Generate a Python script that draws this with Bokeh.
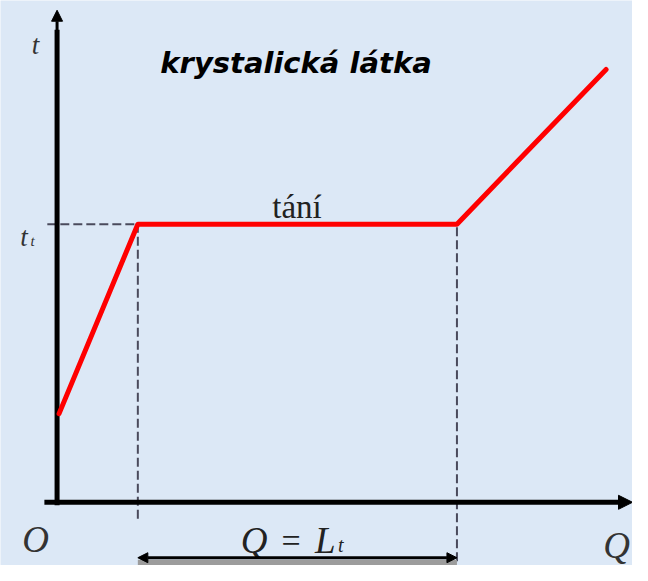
from bokeh.plotting import figure
from bokeh.models import Range1d, Arrow, NormalHead
from bokeh.core.properties import value
from bokeh.embed import file_html
from bokeh.resources import INLINE

# ---- data (heat Q supplied vs. temperature t, arbitrary units) ----
heat_q = [0.05, 2.02, 10.0, 13.73]
temp_t = [25.5, 80.0, 80.0, 124.5]
melt_temp = 80.0          # t_t
melt_start_q = 2.02       # start of melting
melt_end_q = 10.0         # end of melting
title_text = "krystalická látka"
phase_label = "tání"
axis_label_t = "t"
axis_label_q = "Q"
origin_label = "O"
eq_q, eq_sign, eq_l = "Q", "=", "L"
sub_t = "t"

# ---- layout helpers (reference pixel -> data units) ----
OX, OY = 58.0, 516.0      # pixel position of origin in the reference
KX, KY = 41.0, 3.575      # pixels per unit

def qx(px):
    return (px - OX) / KX

def ty(py):
    return (OY - py) / KY

W, H = 632, 565
BG = "#dce8f6"
p = figure(width=W, height=H, output_backend="svg", toolbar_location=None,
           x_range=Range1d(qx(0), qx(648)), y_range=Range1d(ty(581), ty(0)),
           x_axis_type=None, y_axis_type=None, min_border=0)
p.background_fill_color = BG
p.border_fill_color = BG
p.outline_line_color = None

DASH = "#4a4a5c"
# dashed guide lines
p.line([qx(48), melt_start_q], [melt_temp, melt_temp], line_color=DASH,
       line_width=2, line_dash="9 4")
p.line([melt_start_q, melt_start_q], [ty(533), melt_temp], line_color=DASH,
       line_width=2, line_dash="9 4")
p.line([melt_end_q, melt_end_q], [ty(590), melt_temp], line_color=DASH,
       line_width=2, line_dash="9 4")

# axes
p.line([0, 0], [ty(519), ty(30)], line_color="black", line_width=5)
p.add_layout(Arrow(end=NormalHead(size=11, fill_color="black", line_color="black"),
                   x_start=0, y_start=ty(40), x_end=0, y_end=ty(10),
                   line_color="black", line_width=3))
p.line([qx(45), qx(636)], [0, 0], line_color="black", line_width=5)
p.add_layout(Arrow(end=NormalHead(size=14, fill_color="black", line_color="black"),
                   x_start=qx(625), y_start=0, x_end=qx(648), y_end=0,
                   line_color="black", line_width=3))

# heating curve
p.line(heat_q, temp_t, line_color="#ff0000", line_width=5, line_join="round",
       line_cap="round")

# bottom double arrow (latent heat span), partly cut off in the reference
p.quad(left=[melt_start_q], right=[melt_end_q], bottom=[ty(581)], top=[ty(575)],
       fill_color="#9c9c9c", line_color=None)
p.add_layout(Arrow(start=NormalHead(size=10, fill_color="black"),
                   end=NormalHead(size=10, fill_color="black"),
                   x_start=melt_start_q, y_start=ty(573), x_end=melt_end_q, y_end=ty(573),
                   line_color="black", line_width=3))

# texts
def txt(px, py, s, size, style="italic", font="Liberation Serif", align="center",
        color="#333333"):
    p.text(x=[qx(px)], y=[ty(py)], text=[s], text_font=value(font),
           text_font_style=style, text_font_size=size, text_align=align,
           text_baseline="alphabetic", text_color=color)

txt(303, 64, title_text, "29px", style="bold italic", font="DejaVu Sans", color="black")
txt(304, 212, phase_label, "33px", style="normal", color="#222222")
txt(36, 46, axis_label_t, "27px")
txt(24, 243, axis_label_t, "27px")
txt(33, 247, sub_t, "15px")
txt(36, 554, origin_label, "37px")
txt(260, 555, eq_q, "37px", color="#222222")
txt(298, 555, eq_sign, "34px", style="normal", color="#222222")
txt(333, 555, eq_l, "37px", color="#222222")
txt(349, 560, sub_t, "20px", color="#222222")
txt(618, 560, axis_label_q, "37px", align="left")

open("out.html", "w").write(file_html(p, INLINE))
